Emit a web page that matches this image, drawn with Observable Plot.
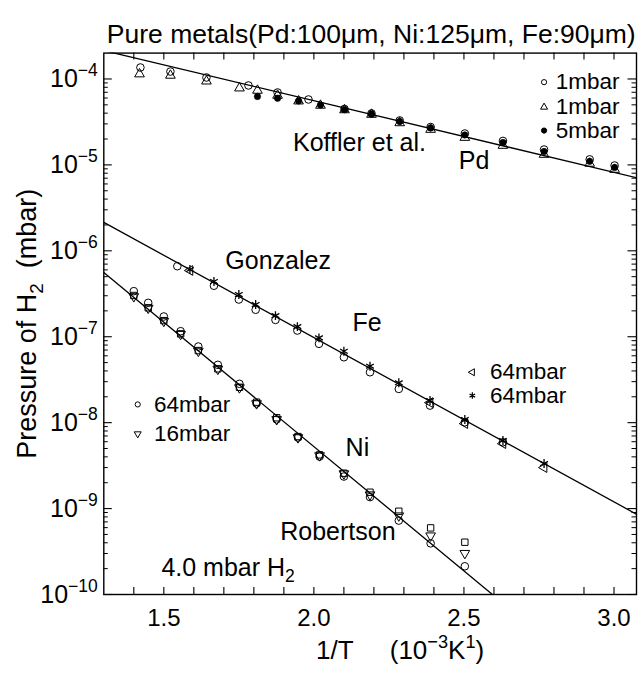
<!DOCTYPE html>
<html><head><meta charset="utf-8">
<script src="https://cdn.jsdelivr.net/npm/d3@7"></script>
<script src="https://cdn.jsdelivr.net/npm/@observablehq/plot@0.6"></script>
<style>html,body{margin:0;padding:0;background:#fff;}</style>
</head><body><div id="chart"></div>
<script>
// ---------- DATA (x = 1/T in 10^-3 K^-1, y = pressure of H2 in mbar) ----------
const pdOpenCircle1mbar = [[1.422,1.36e-4],[1.522,1.22e-4],[1.642,1.04e-4],[1.782,8.40e-5],[1.879,6.96e-5],[1.982,5.77e-5],[2.102,4.48e-5],[2.192,3.97e-5],[2.286,3.29e-5],[2.389,2.76e-5],[2.503,2.32e-5],[2.630,1.90e-5],[2.767,1.51e-5],[2.919,1.16e-5],[3.002,9.84e-6]];
const pdOpenTriangle1mbar = [[1.419,1.14e-4],[1.522,1.10e-4],[1.642,9.42e-5],[1.752,7.82e-5],[1.812,7.35e-5],[1.879,6.43e-5],[1.949,5.52e-5],[2.022,4.92e-5],[2.102,4.36e-5],[2.192,3.86e-5],[2.286,3.08e-5],[2.389,2.58e-5],[2.503,2.08e-5],[2.630,1.68e-5],[2.767,1.32e-5],[2.919,1.04e-5],[3.002,8.83e-6]];
const pdFilled5mbar = [[1.812,6.25e-5],[1.879,5.97e-5],[1.949,5.55e-5],[2.022,4.98e-5],[2.102,4.42e-5],[2.192,3.92e-5],[2.286,3.20e-5],[2.389,2.69e-5],[2.503,2.23e-5],[2.630,1.82e-5],[2.767,1.43e-5],[2.919,1.10e-5],[3.002,9.33e-6]];

const feOpenCircle = [[1.545,6.62e-7],[1.667,3.92e-7],[1.750,2.71e-7],[1.806,2.06e-7],[1.872,1.57e-7],[1.945,1.18e-7],[2.017,8.27e-8],[2.100,5.77e-8],[2.187,3.86e-8],[2.283,2.47e-8],[2.387,1.58e-8],[2.503,1.01e-8],[2.630,5.91e-9]];
const feLeftTriangle64mbar = [[1.587,5.90e-7],[2.387,1.71e-8],[2.503,9.75e-9],[2.630,5.70e-9],[2.767,3.00e-9]];
const feAsterisk64mbar = [[1.587,6.05e-7],[1.667,4.39e-7],[1.750,3.10e-7],[1.806,2.37e-7],[1.872,1.76e-7],[1.945,1.31e-7],[2.017,9.70e-8],[2.100,6.78e-8],[2.187,4.54e-8],[2.283,2.91e-8],[2.387,1.81e-8],[2.503,1.09e-8],[2.630,6.19e-9],[2.767,3.34e-9]];

const niOpenCircle64mbar = [[1.400,3.39e-7],[1.448,2.48e-7],[1.500,1.72e-7],[1.556,1.16e-7],[1.615,7.69e-8],[1.680,4.71e-8],[1.752,2.83e-8],[1.809,1.67e-8],[1.876,1.09e-8],[1.947,6.71e-9],[2.019,4.03e-9],[2.100,2.36e-9],[2.187,1.36e-9],[2.283,7.25e-10],[2.389,3.94e-10],[2.503,2.13e-10]];
const niTriangleDown16mbar = [[1.400,2.94e-7],[1.448,2.16e-7],[1.500,1.52e-7],[1.556,1.07e-7],[1.615,6.82e-8],[1.680,4.21e-8],[1.752,2.56e-8],[1.809,1.67e-8],[1.876,1.09e-8],[1.947,6.71e-9],[2.019,4.14e-9],[2.100,2.55e-9],[2.187,1.45e-9],[2.283,8.26e-10],[2.389,4.83e-10],[2.503,3.02e-10]];
const niSquare = [[1.400,3.02e-7],[1.448,2.17e-7],[1.500,1.54e-7],[1.556,1.08e-7],[1.615,6.90e-8],[1.680,4.23e-8],[1.752,2.58e-8],[1.809,1.73e-8],[1.876,1.14e-8],[1.947,6.89e-9],[2.019,4.22e-9],[2.100,2.58e-9],[2.187,1.55e-9],[2.283,9.31e-10],[2.389,5.96e-10],[2.503,4.06e-10]];

// literature fit lines (Koffler et al., Gonzalez, Robertson)
const pdFit = [[1.3,2.14e-4],[3.075,7.1e-6]];
const feFit = [[1.3,2.14e-6],[3.075,8.6e-10]];
const niFit = [[1.3,5.58e-7],[2.65,6.93e-11]];

// tick values
const xLabelTicks = [1.5, 2.0, 2.5, 3.0];
const xMinorTicks = [1.4,1.5,1.6,1.7,1.8,1.9,2.0,2.1,2.2,2.3,2.4,2.5,2.6,2.7,2.8,2.9,3.0];
const yDecades = [1e-10,1e-9,1e-8,1e-7,1e-6,1e-5,1e-4];
const yMinorFactors = [2,3,4,5,6,7,8,9];

// texts
const titleText = "Pure metals(Pd:100\u03bcm, Ni:125\u03bcm, Fe:90\u03bcm)";
const yTitle = "Pressure of H_{2}\u00a0\u00a0(mbar)";
const xTitle = "1/T\u00a0\u00a0\u00a0\u00a0\u00a0(10^{\u22123}K^{1})";
const annotations = [
  {text: "Koffler et al.", x: 2.152, y: 1.80e-5},
  {text: "Pd", x: 2.534, y: 1.12e-5},
  {text: "Gonzalez", x: 1.881, y: 7.55e-7},
  {text: "Fe", x: 2.177, y: 1.46e-7},
  {text: "Ni", x: 2.145, y: 5.06e-9},
  {text: "Robertson", x: 2.080, y: 5.30e-10}
];
const conditionNote = {text: "4.0 mbar H_{2}", x: 1.492, y: 2.06e-10};
const legendPd = [{label: "1mbar", y: 9.18e-5}, {label: "1mbar", y: 4.70e-5}, {label: "5mbar", y: 2.51e-5}];
const legendFe = [{label: "64mbar", y: 3.86e-8}, {label: "64mbar", y: 2.07e-8}];
const legendNi = [{label: "64mbar", y: 1.63e-8}, {label: "16mbar", y: 7.41e-9}];

// ---------- LAYOUT ----------
const W = 643, H = 673;
const mL = 103.3, mR = 7, mT = 52.6, mB = 79;
const innerW = W - mL - mR, innerH = H - mT - mB;
const FONT = "'Liberation Sans', Arial, Helvetica, sans-serif";

const yMinor = [];
for (const d of yDecades) for (const f of yMinorFactors) { const v = d * f; if (v < 2e-4) yMinor.push(v); }

const SQ3 = Math.sqrt(3);
const triangleDown = {draw(ctx, size) { const y = -Math.sqrt(size / (SQ3 * 3)); ctx.moveTo(0, -2 * y); ctx.lineTo(SQ3 * y, y); ctx.lineTo(-SQ3 * y, y); ctx.closePath(); }};
const triangleLeft = {draw(ctx, size) { const y = -Math.sqrt(size / (SQ3 * 3)); ctx.moveTo(2 * y, 0); ctx.lineTo(-y, SQ3 * y); ctx.lineTo(-y, -SQ3 * y); ctx.closePath(); }};

const X = d => d[0], Y = d => d[1];
const openDot = (data, symbol, r = 3.8) => Plot.dot(data, {x: X, y: Y, symbol, r, fill: "none", stroke: "black", strokeWidth: 1});
const filledDot = (data, r = 3.2) => Plot.dot(data, {x: X, y: Y, symbol: "circle", r, fill: "black", stroke: "black", strokeWidth: 0.6});
const fitLine = data => Plot.line(data, {x: X, y: Y, stroke: "black", strokeWidth: 1.3, clip: true});

const legSym = (x, y, symbol, filled, r = 2.6) => Plot.dot([0], {x: () => x, y: () => y, symbol, r, fill: filled ? "black" : "none", stroke: "black", strokeWidth: 1});
const legText = (data, x) => Plot.text(data, {x: () => x, y: "y", text: "label", textAnchor: "start", fontSize: 22.5});

const chart = Plot.plot({
  width: W, height: H,
  marginLeft: mL, marginRight: mR, marginTop: mT, marginBottom: mB,
  style: {fontFamily: FONT, background: "white", color: "black", overflow: "visible"},
  x: {domain: [1.3, 3.075]},
  y: {type: "log", domain: [1e-10, 2e-4]},
  marks: [
    // ticks (inward, on all four sides)
    Plot.tickX(xMinorTicks, {x: d => d, insetTop: innerH - 7, stroke: "black", strokeWidth: 1.1}),
    Plot.tickX(xMinorTicks, {x: d => d, insetBottom: innerH - 7, stroke: "black", strokeWidth: 1.1}),
    Plot.tickY(yDecades, {y: d => d, insetRight: innerW - 8.5, stroke: "black", strokeWidth: 1.1}),
    Plot.tickY(yDecades, {y: d => d, insetLeft: innerW - 8.5, stroke: "black", strokeWidth: 1.1}),
    Plot.tickY(yMinor, {y: d => d, insetRight: innerW - 4.5, stroke: "black", strokeWidth: 1}),
    Plot.tickY(yMinor, {y: d => d, insetLeft: innerW - 4.5, stroke: "black", strokeWidth: 1}),
    Plot.frame({stroke: "black", strokeWidth: 1.4}),
    Plot.axisX(xLabelTicks, {anchor: "bottom", tickSize: 0, tickPadding: 14, tickFormat: d => d.toFixed(1), fontSize: 24, label: null}),
    Plot.axisY(yDecades, {anchor: "left", tickSize: 0, tickPadding: 6, tickFormat: d => `10^{\u2212${Math.round(-Math.log10(d))}}`, fontSize: 25, label: null}),

    // fit lines
    fitLine(pdFit), fitLine(feFit), fitLine(niFit),

    // Pd
    openDot(pdOpenCircle1mbar, "circle"),
    openDot(pdOpenTriangle1mbar, "triangle", 3.6),
    filledDot(pdFilled5mbar),
    // Fe
    openDot(feOpenCircle, "circle"),
    openDot(feLeftTriangle64mbar, triangleLeft, 3.6),
    Plot.dot(feAsterisk64mbar, {x: X, y: Y, symbol: "asterisk", r: 4.2, stroke: "black", strokeWidth: 1.3}),
    // Ni
    openDot(niOpenCircle64mbar, "circle"),
    openDot(niTriangleDown16mbar, triangleDown, 3.6),
    openDot(niSquare, "square", 3.6),

    // annotations
    Plot.text(annotations, {x: "x", y: "y", text: "text", fontSize: 25}),
    Plot.text([conditionNote], {x: "x", y: "y", text: "text", textAnchor: "start", fontSize: 25}),

    // legends
    legSym(2.767, legendPd[0].y, "circle", false),
    legSym(2.767, legendPd[1].y, "triangle", false),
    legSym(2.767, legendPd[2].y, "circle", true),
    legText(legendPd, 2.806),
    legSym(2.528, legendFe[0].y, triangleLeft, false),
    Plot.dot([0], {x: () => 2.528, y: () => legendFe[1].y, symbol: "asterisk", r: 3, stroke: "black", strokeWidth: 1.2}),
    legText(legendFe, 2.587),
    legSym(1.413, legendNi[0].y, "circle", false),
    legSym(1.413, legendNi[1].y, triangleDown, false),
    legText(legendNi, 1.467),

    // titles
    Plot.text([titleText], {frameAnchor: "top-left", textAnchor: "start", dx: 3, dy: -29, fontSize: 26.5}),
    Plot.text([yTitle], {frameAnchor: "left", textAnchor: "middle", dx: -76, rotate: -90, fontSize: 27}),
    Plot.text([xTitle], {frameAnchor: "bottom", textAnchor: "middle", dx: 30, dy: 64, fontSize: 26})
  ]
});

document.getElementById("chart").appendChild(chart);

// super/subscript rendering for "^{...}" and "_{...}"
chart.querySelectorAll("text").forEach(t => {
  const s = t.textContent;
  if (!/[\^_]\{/.test(s)) return;
  const fs = parseFloat(getComputedStyle(t).fontSize) || 20;
  const parts = s.split(/([\^_]\{[^}]*\})/).filter(p => p !== "");
  while (t.firstChild) t.removeChild(t.firstChild);
  let shift = 0;
  for (const p of parts) {
    const ts = document.createElementNS("http://www.w3.org/2000/svg", "tspan");
    let target = 0, txt = p, small = false;
    if (p.startsWith("^{")) { target = -0.42 * fs; txt = p.slice(2, -1); small = true; }
    else if (p.startsWith("_{")) { target = 0.24 * fs; txt = p.slice(2, -1); small = true; }
    const dy = target - shift; shift = target;
    if (dy) ts.setAttribute("dy", dy.toFixed(2));
    if (small) ts.setAttribute("font-size", (0.7 * fs).toFixed(2));
    ts.textContent = txt;
    t.appendChild(ts);
  }
});
</script></body></html>
